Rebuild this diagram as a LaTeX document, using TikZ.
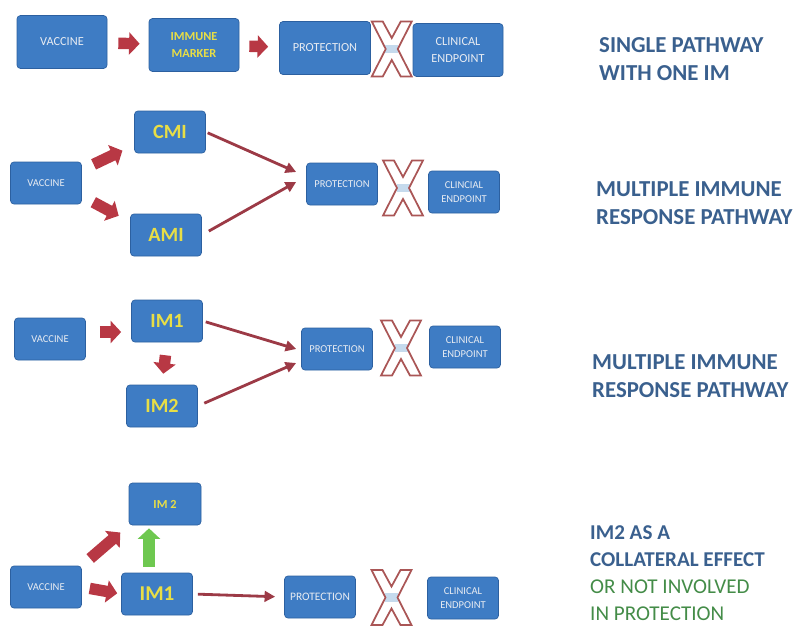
\documentclass[tikz,border=0pt]{standalone}
\usepackage{fontspec}
\setmainfont{Carlito}
\usepackage{tikz}
\usetikzlibrary{arrows.meta,positioning,calc}
\usepackage{xcolor}
\definecolor{boxblue}{RGB}{62,124,196}
\definecolor{boxedge}{RGB}{44,96,160}
\definecolor{boxtext}{RGB}{232,236,242}
\definecolor{markyellow}{RGB}{232,222,70}
\definecolor{fatred}{RGB}{184,56,68}
\definecolor{thinred}{RGB}{156,58,70}
\definecolor{upgreen}{RGB}{110,200,80}
\definecolor{crossred}{RGB}{170,86,86}
\definecolor{linkblue}{RGB}{150,188,224}
\definecolor{capblue}{RGB}{58,96,142}
\definecolor{capgreen}{RGB}{68,140,72}

\begin{document}
\begin{tikzpicture}[
    block/.style={rectangle, draw=boxedge, fill=boxblue, rounded corners=2pt, minimum width=1.42cm, minimum height=0.84cm, align=center, text=boxtext, inner sep=2pt, font=\fontsize{6}{8}\selectfont},
    bigblock/.style={block, minimum width=1.8cm, minimum height=1.06cm, font=\fontsize{7}{9.5}\selectfont},
    marker/.style={text=markyellow, font=\fontsize{11.5}{13}\selectfont\bfseries},
    bigarrow/.style={-{Triangle[length=6pt,width=12.5pt]}, line width=6.5pt, fatred},
    arrow/.style={-{Triangle[length=6pt,width=6pt]}, line width=1.6pt, thinred},
    caption/.style={anchor=west, align=left, text=capblue, font=\fontsize{13}{16}\selectfont\bfseries},
    nolink/.pic={
        \draw[linkblue, line width=5pt] (-0.13,0) -- (0.13,0);
        \draw[crossred, fill=white, fill opacity=0.45, line width=1pt, line join=miter]
            (-0.40,0.55) -- (-0.18,0.55) -- (0,0.22) -- (0.18,0.55) -- (0.40,0.55) -- (0.12,0)
            -- (0.40,-0.55) -- (0.18,-0.55) -- (0,-0.22) -- (-0.18,-0.55) -- (-0.40,-0.55) -- (-0.12,0) -- cycle;
    }
]
\useasboundingbox (0,0) rectangle (15.9,-12.52);

% Row 1: single pathway
\node[bigblock] (vac1) at (1.24,-0.84) {VACCINE};
\node[bigblock, font=\fontsize{7}{9.5}\selectfont\bfseries, text=markyellow] (mark1) at (3.88,-0.90) {IMMUNE\\MARKER};
\node[bigblock, minimum width=1.82cm] (prot1) at (6.50,-0.96) {PROTECTION};
\node[bigblock] (clin1) at (9.16,-1.00) {CLINICAL\\ENDPOINT};
\draw[bigarrow, shorten <=0.22cm, shorten >=0.18cm] (vac1) -- (mark1);
\draw[bigarrow, shorten <=0.2cm, shorten >=0.22cm] (mark1) -- (prot1);
\pic at ($(prot1.east)!0.5!(clin1.west)$) {nolink};
\node[caption] (cap1) at (11.86,-1.18) {SINGLE PATHWAY\\WITH ONE IM};

% Row 2: CMI and AMI
\node[block] (vac2) at (0.92,-3.66) {VACCINE};
\node[block, marker] (cmi) at (3.40,-2.64) {CMI};
\node[block, marker] (ami) at (3.32,-4.70) {AMI};
\node[block] (prot2) at (6.84,-3.68) {PROTECTION};
\node[block] (clin2) at (9.28,-3.84) {CLINCIAL\\ENDPOINT};
\draw[bigarrow, shorten <=0.26cm, shorten >=0.26cm] (vac2.20) -- (cmi.200);
\draw[bigarrow, shorten <=0.26cm, shorten >=0.26cm] (vac2.-20) -- (ami.160);
\draw[arrow, shorten <=0.04cm] (cmi.east) -- ([xshift=-0.2cm,yshift=0.24cm]prot2.west);
\draw[arrow, shorten <=0.16cm] (ami.east) -- ([xshift=-0.2cm,yshift=0.04cm]prot2.west);
\pic at ($(prot2.east)!0.5!(clin2.west)$) {nolink};
\node[caption] (cap2) at (11.80,-4.06) {MULTIPLE IMMUNE\\RESPONSE PATHWAY};

% Row 3: IM1 then IM2
\node[block] (vac3) at (1.00,-6.78) {VACCINE};
\node[block, marker] (im1) at (3.34,-6.42) {IM1};
\node[block, marker] (im2) at (3.24,-8.12) {IM2};
\node[block] (prot3) at (6.74,-6.98) {PROTECTION};
\node[block] (clin3) at (9.30,-6.94) {CLINICAL\\ENDPOINT};
\draw[bigarrow, shorten <=0.28cm, shorten >=0.2cm] ([yshift=0.14cm]vac3.east) -- ([yshift=0.14cm]vac3.east -| im1.west);
\draw[bigarrow, shorten <=0.26cm, shorten >=0.22cm] (im1.south) -- (im2.north);
\draw[arrow, shorten <=0.06cm] (im1.east) -- ([xshift=-0.1cm]prot3.west);
\draw[arrow, shorten <=0.14cm] (im2.east) -- ([xshift=-0.1cm,yshift=-0.28cm]prot3.west);
\pic at ($(prot3.east)!0.5!(clin3.west)$) {nolink};
\node[caption] (cap3) at (11.72,-7.52) {MULTIPLE IMMUNE\\RESPONSE PATHWAY};

% Row 4: IM2 as collateral effect
\node[block, minimum width=1.44cm, text=markyellow, font=\fontsize{7}{9}\selectfont\bfseries] (im2b) at (3.30,-10.08) {IM 2};
\node[block] (vac4) at (0.92,-11.74) {VACCINE};
\node[block, marker, font=\fontsize{12}{14}\selectfont\bfseries] (im1b) at (3.14,-11.88) {IM1};
\node[block, font=\fontsize{6.5}{8}\selectfont] (prot4) at (6.40,-11.94) {PROTECTION};
\node[block] (clin4) at (9.26,-11.96) {CLINICAL\\ENDPOINT};
\draw[bigarrow, shorten <=0.22cm, shorten >=0.22cm] (vac4.north east) -- (im2b.south west);
\draw[bigarrow, upgreen, shorten <=0.12cm, shorten >=0.06cm] ([xshift=-0.16cm]im1b.north) -- ([xshift=-0.16cm]im1b.north |- im2b.south);
\draw[bigarrow, shorten <=0.16cm, shorten >=0.08cm] (vac4.east) -- (im1b.west);
\draw[arrow, shorten <=0.1cm, shorten >=0.18cm] (im1b.east) -- (prot4.west);
\pic at ($(prot4.east)!0.5!(clin4.west)$) {nolink};
\node[caption, font=\fontsize{12}{15.3}\selectfont] (cap4) at (11.68,-11.46)
    {\textbf{IM2 AS A}\\\textbf{COLLATERAL EFFECT}\\\textcolor{capgreen}{OR NOT INVOLVED}\\\textcolor{capgreen}{IN PROTECTION}};

\end{tikzpicture}
\end{document}
